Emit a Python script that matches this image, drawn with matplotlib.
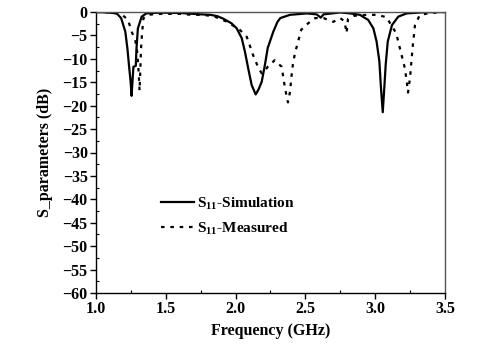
import matplotlib
matplotlib.use("Agg")
import matplotlib.pyplot as plt
from matplotlib.ticker import MultipleLocator

sim_freq = [1.00, 1.08, 1.148, 1.18, 1.21, 1.225, 1.236, 1.248, 1.255, 1.262, 1.268, 1.285,
            1.29, 1.30, 1.327, 1.36, 1.45, 1.60, 1.75, 1.82, 1.87, 1.91, 1.97, 2.008, 2.044,
            2.067, 2.09, 2.115, 2.144, 2.165, 2.187, 2.21, 2.23, 2.27, 2.30, 2.32, 2.39, 2.51,
            2.58, 2.61, 2.63, 2.75, 2.82, 2.89, 2.95, 2.987, 3.01, 3.03, 3.04, 3.054, 3.065,
            3.075, 3.09, 3.12, 3.165, 3.225, 3.35, 3.50]
sim_db = [0.0, -0.1, -0.3, -1.3, -4.2, -7.8, -11.3, -14.9, -17.9, -14.5, -11.7, -11.5,
          -7.8, -3.5, -1.0, -0.3, -0.15, -0.2, -0.5, -0.6, -0.9, -1.4, -2.4, -3.5, -5.6,
          -8.5, -12.0, -15.6, -17.6, -16.5, -14.9, -11.3, -7.7, -4.2, -2.1, -1.3, -0.6, -0.3,
          -0.5, -1.2, -0.5, -0.1, -0.3, -0.6, -1.7, -3.5, -6.3, -10.6, -15.6, -21.4, -16.3,
          -11.3, -6.3, -2.8, -1.0, -0.3, -0.05, 0.0]

meas_freq = [1.00, 1.10, 1.18, 1.23, 1.255, 1.28, 1.295, 1.305, 1.312, 1.318, 1.322, 1.33,
             1.34, 1.37, 1.45, 1.60, 1.69, 1.77, 1.85, 1.94, 2.03, 2.08, 2.10, 2.125, 2.16,
             2.187, 2.21, 2.23, 2.28, 2.33, 2.354, 2.375, 2.39, 2.40, 2.41, 2.425, 2.447,
             2.47, 2.52, 2.57, 2.63, 2.70, 2.75, 2.78, 2.795, 2.805, 2.85, 2.94, 3.01, 3.08,
             3.15, 3.18, 3.21, 3.225, 3.235, 3.25, 3.26, 3.27, 3.285, 3.32, 3.40, 3.50]
meas_db = [0.0, -0.1, -0.4, -1.7, -4.2, -5.8, -8.5, -12.5, -16.8, -12.0, -8.0, -4.5,
           -1.3, -0.6, -0.4, -0.4, -0.6, -0.6, -1.0, -2.1, -3.8, -5.3, -7.0, -9.2, -11.7,
           -13.1, -12.5, -11.7, -10.3, -11.7, -16.3, -19.3, -17.0, -13.8, -11.3, -8.8, -6.4,
           -3.8, -2.4, -1.3, -1.3, -2.1, -1.3, -2.0, -4.5, -1.5, -0.8, -0.6, -0.6, -1.1,
           -4.5, -8.1, -11.7, -14.5, -17.2, -13.9, -10.3, -7.0, -2.8, -0.6, -0.2, 0.0]

xticks = [1.0, 1.5, 2.0, 2.5, 3.0, 3.5]
yticks = list(range(0, -61, -5))

plt.rcParams['font.family'] = ['Liberation Serif', 'DejaVu Serif']
plt.rcParams['font.weight'] = 'bold'
plt.rcParams['mathtext.fontset'] = 'custom'
plt.rcParams['mathtext.rm'] = 'Liberation Serif:bold'
plt.rcParams['mathtext.bf'] = 'Liberation Serif:bold'
plt.rcParams['mathtext.it'] = 'Liberation Serif:bold:italic'

fig = plt.figure(figsize=(4.89, 3.59), dpi=100)
ax = fig.add_axes([96/489, 1 - 293/359, (445-96)/489, (293-12)/359])

ax.plot(sim_freq, sim_db, color='black', lw=1.6, label='S$_{\\mathbf{11}}$-Simulation')
ax.plot(meas_freq, meas_db, color='black', lw=1.6, linestyle=(0, (1.6, 2.6)),
        label='S$_{\\mathbf{11}}$-Measured')

ax.set_xlim(1.0, 3.5)
ax.set_ylim(-60, 0)
ax.set_xticks(xticks)
ax.set_xticklabels([f"{t:.1f}" for t in xticks])
ax.set_yticks(yticks)
ax.set_yticklabels([str(t).replace('-', '\u2212') for t in yticks])
ax.xaxis.set_minor_locator(MultipleLocator(0.25))
ax.yaxis.set_minor_locator(MultipleLocator(2.5))
ax.tick_params(which='major', direction='out', length=4, width=1, labelsize=11.5, pad=2)
ax.tick_params(which='minor', direction='in', length=2.5, width=0.8)
for lab in ax.get_xticklabels() + ax.get_yticklabels():
    lab.set_fontweight('bold')
for sp in ax.spines.values():
    sp.set_linewidth(1.0)
    sp.set_color('#555555')
ax.spines['left'].set_color('black')
ax.spines['bottom'].set_color('black')

ax.set_xlabel('Frequency (GHz)', fontsize=11.5, fontweight='bold', labelpad=4)
ax.set_ylabel('S_parameters (dB)', fontsize=11.5, fontweight='bold', labelpad=7)

leg = ax.legend(loc='upper left', bbox_to_anchor=(0.155, 0.385), frameon=False,
                fontsize=11, handlelength=2.2, handletextpad=0.15, labelspacing=0.6,
                borderpad=0.2)
for t in leg.get_texts():
    t.set_fontweight('bold')

fig.savefig('out.png', dpi=100)
